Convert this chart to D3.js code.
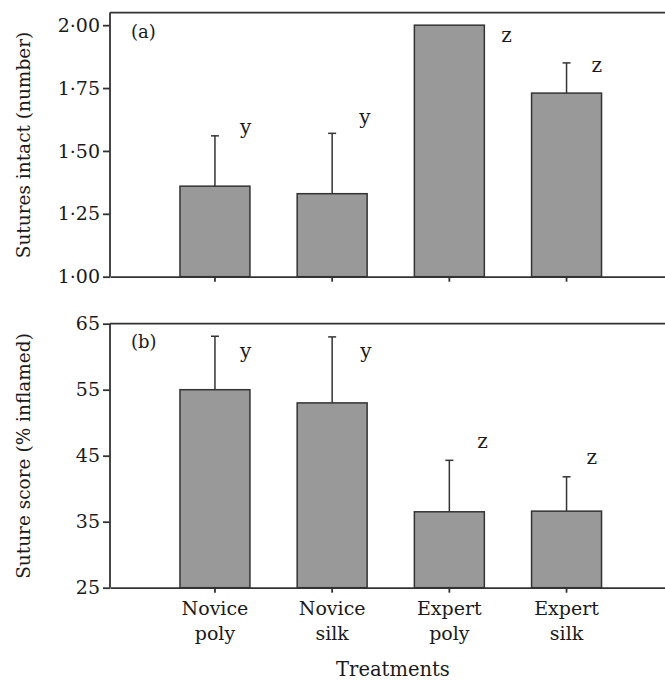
<!DOCTYPE html>
<html>
<head>
<meta charset="utf-8">
<script src="https://cdn.jsdelivr.net/npm/d3@7"></script>
<style>
  body { margin: 0; background: #fff; }
  svg { display: block; font-family: "DejaVu Serif", serif; }
  .axis path, .axis line { stroke: #333; stroke-width: 1.8; }
  .axis text { font-size: 19px; fill: #1a1a1a; font-family: "DejaVu Serif", serif; }
</style>
</head>
<body>
<script>
// categories (two-line labels)
var treatments = ["Novice poly", "Novice silk", "Expert poly", "Expert silk"];

// panel (a) sutures intact
var intactMean = [1.36, 1.33, 2.00, 1.73];
var intactErr = [1.56, 1.57, 2.00, 1.85];
var intactLetters = ["y", "y", "z", "z"];
var intactLetterAt = [1.567, 1.607, 1.933, 1.813];
var intactTicks = [1.00, 1.25, 1.50, 1.75, 2.00];

// panel (b) suture score
var scoreMean = [55.0, 53.0, 36.5, 36.6];
var scoreErr = [63.1, 63.0, 44.3, 41.8];
var scoreLetters = ["y", "y", "z", "z"];
var scoreLetterAt = [59.8, 59.8, 46.2, 43.7];
var scoreTicks = [25, 35, 45, 55, 65];

window.onload = () => {
    var width = 665, height = 680;
    var left = 110;

    var svg = d3.select("body").append("svg")
        .attr("width", width)
        .attr("height", height);

    var x = d3.scaleBand()
        .domain(treatments)
        .range([left, 671.5])
        .paddingInner(0.403)
        .paddingOuter(0.597);

    function panel(opts) {
        var y = d3.scaleLinear().domain(opts.domain).range(opts.range);
        var g = svg.append("g");
        var bottom = opts.range[0], top = opts.range[1];

        // top frame line
        g.append("line")
            .attr("x1", left).attr("x2", 671.5)
            .attr("y1", top).attr("y2", top)
            .attr("stroke", "#333").attr("stroke-width", 1.8);

        // error bars (upper only)
        g.selectAll(".err")
            .data(opts.mean)
            .enter()
            .append("g")
            .each(function (d, i) {
                if (opts.err[i] <= d) return;
                var cx = x(treatments[i]) + x.bandwidth() / 2;
                var sel = d3.select(this);
                sel.append("line")
                    .attr("x1", cx).attr("x2", cx)
                    .attr("y1", y(d)).attr("y2", y(opts.err[i]))
                    .attr("stroke", "#333").attr("stroke-width", 1.5);
                sel.append("line")
                    .attr("x1", cx - 4).attr("x2", cx + 4)
                    .attr("y1", y(opts.err[i])).attr("y2", y(opts.err[i]))
                    .attr("stroke", "#333").attr("stroke-width", 1.5);
            });

        // bars
        g.selectAll(".bar")
            .data(opts.mean)
            .enter()
            .append("rect")
            .attr("x", function (d, i) { return x(treatments[i]); })
            .attr("width", x.bandwidth())
            .attr("y", function (d) { return y(d); })
            .attr("height", function (d) { return bottom - y(d); })
            .attr("fill", "#999999")
            .attr("stroke", "#333")
            .attr("stroke-width", 1.5);

        // significance letters
        g.selectAll(".letter")
            .data(opts.letters)
            .enter()
            .append("text")
            .attr("x", function (d, i) {
                var cx = x(treatments[i]) + x.bandwidth() / 2;
                return opts.err[i] <= opts.mean[i] ? x(treatments[i]) + x.bandwidth() + 17 : cx + opts.dx[i];
            })
            .attr("y", function (d, i) { return y(opts.letterAt[i]); })
            .style("font-size", "20px")
            .attr("fill", "#1a1a1a")
            .text(function (d) { return d; });

        // y axis
        g.append("g")
            .attr("class", "axis")
            .attr("transform", "translate(" + left + ",0)")
            .call(d3.axisLeft(y).tickValues(opts.ticks).tickSize(7).tickSizeOuter(0).tickPadding(3).tickFormat(opts.fmt))
            .call(function (a) { a.select(".domain").attr("d", "M0," + bottom + "V" + top); });

        // x axis
        var xa = g.append("g")
            .attr("class", "axis")
            .attr("transform", "translate(0," + bottom + ")")
            .call(d3.axisBottom(x).tickSize(5).tickSizeOuter(0).tickFormat(""));

        // panel label
        g.append("text")
            .attr("x", 131)
            .attr("y", opts.tagY)
            .style("font-size", "18px")
            .attr("fill", "#1a1a1a")
            .text(opts.tag);

        // y title
        g.append("text")
            .attr("transform", "translate(30," + opts.titleY + ") rotate(-90)")
            .style("text-anchor", "middle")
            .style("font-size", "18.5px")
            .attr("fill", "#1a1a1a")
            .text(opts.title);

        return xa;
    }

    var fmtA = function (d) { return d3.format(".2f")(d).replace(".", "\u00b7"); };

    panel({
        domain: [1, 2.05], range: [276.7, 12.6],
        mean: intactMean, err: intactErr, letters: intactLetters, letterAt: intactLetterAt,
        dx: [25, 27, 25, 25], ticks: intactTicks, fmt: fmtA,
        tag: "(a)", tagY: 38, title: "Sutures intact (number)", titleY: 145
    });

    var xa = panel({
        domain: [25, 65], range: [587.7, 323.7],
        mean: scoreMean, err: scoreErr, letters: scoreLetters, letterAt: scoreLetterAt,
        dx: [25, 28, 28, 20], ticks: scoreTicks, fmt: d3.format("d"),
        tag: "(b)", tagY: 348, title: "Suture score (% inflamed)", titleY: 456
    });

    // two-line category labels
    xa.selectAll(".tick")
        .append("text")
        .attr("fill", "#1a1a1a")
        .attr("text-anchor", "middle")
        .each(function (d) {
            var parts = d.split(" ");
            var t = d3.select(this);
            t.append("tspan").attr("x", 0).attr("y", 27.5).text(parts[0]);
            t.append("tspan").attr("x", 0).attr("y", 52.5).text(parts[1]);
        });

    svg.append("text")
        .attr("x", 393)
        .attr("y", 676)
        .style("text-anchor", "middle")
        .style("font-size", "19.5px")
        .attr("fill", "#1a1a1a")
        .text("Treatments");
};
</script>
</body>
</html>
